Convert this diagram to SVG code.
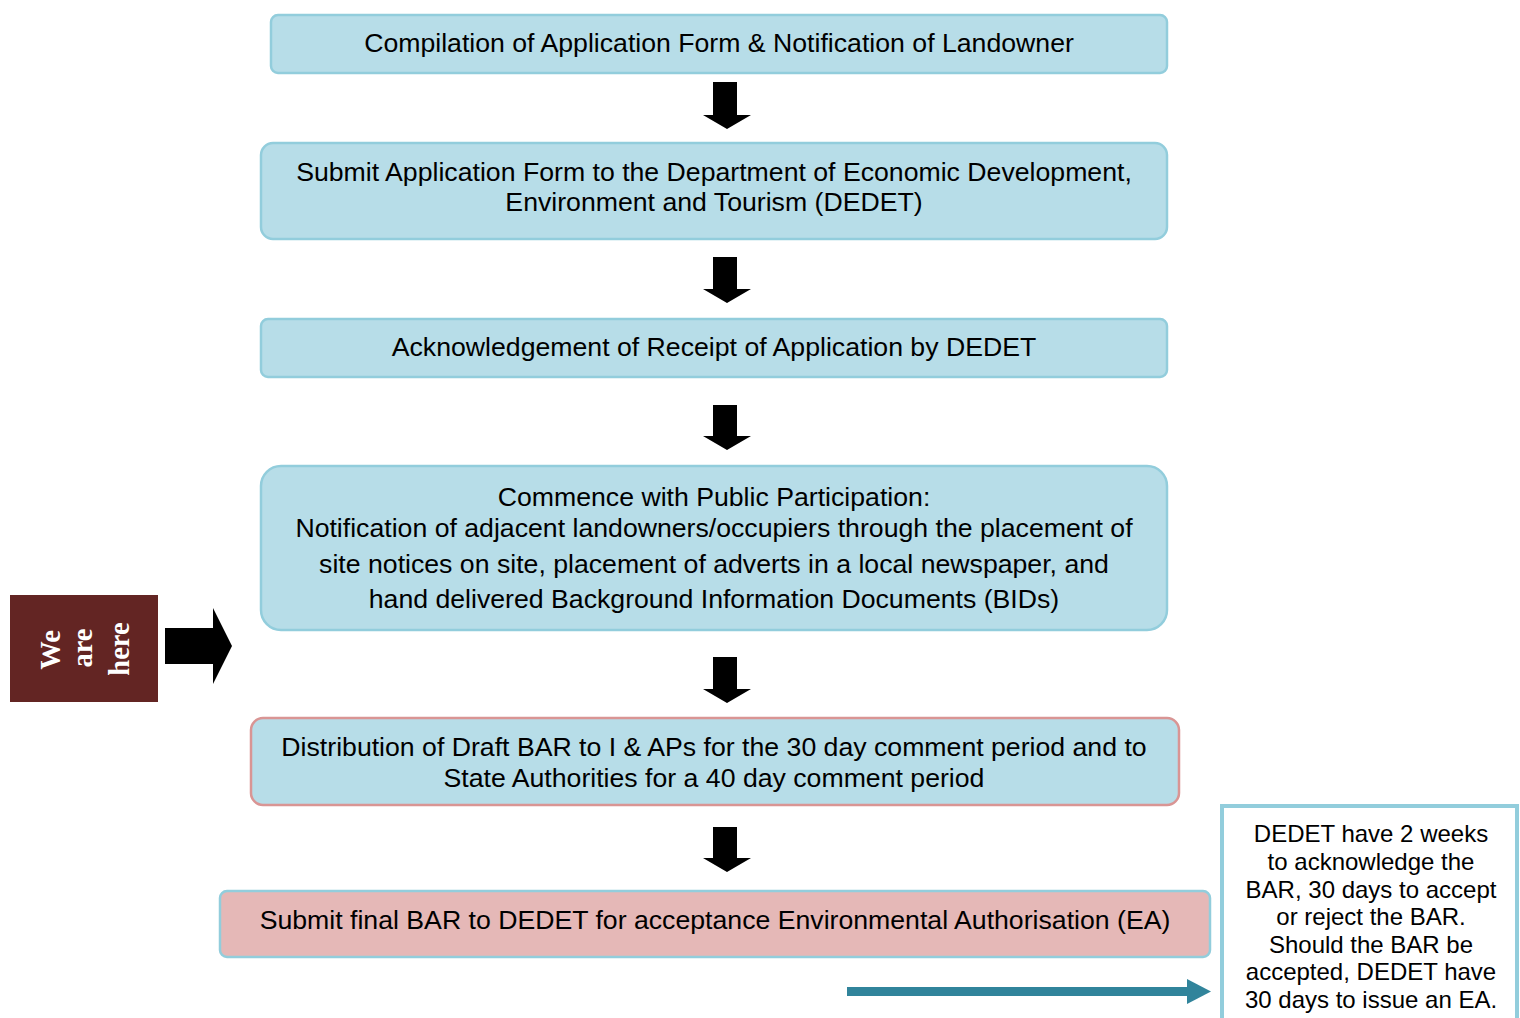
<svg xmlns="http://www.w3.org/2000/svg" width="1520" height="1018" viewBox="0 0 1520 1018">
  <style>
    .box { fill: #b7dde8; stroke: #92cddc; stroke-width: 2.5; }
    .pinkstroke { stroke: #d99594; }
    .pinkfill { fill: #e5b8b7; }
    .t { font-family: "Liberation Sans", Arial, sans-serif; font-size: 26.67px; fill: #000; text-anchor: middle; }
    .s { font-family: "Liberation Sans", Arial, sans-serif; font-size: 24px; fill: #000; text-anchor: middle; }
    .w { font-family: "Liberation Serif", "Times New Roman", serif; font-size: 28.5px; font-weight: bold; fill: #fff; text-anchor: middle; }
  </style>
  <defs>
    <polygon id="down" points="-14,0 10,0 10,33 24,33 0,47 -24,33 -14,33" fill="#000" transform="translate(0,0)"/>
  </defs>
  <rect width="1520" height="1018" fill="#fff"/>

  <g id="connectors">
    <polygon points="713,82 737,82 737,115 751,115 727,129 703,115 713,115" fill="#000"/>
    <polygon points="713,257 737,257 737,289 751,289 727,303 703,289 713,289" fill="#000"/>
    <polygon points="713,405 737,405 737,436 751,436 727,450 703,436 713,436" fill="#000"/>
    <polygon points="713,657 737,657 737,689 751,689 727,703 703,689 713,689" fill="#000"/>
    <polygon points="713,827 737,827 737,858 751,858 727,872 703,858 713,858" fill="#000"/>
    <polygon points="165,628 213,628 213,608 232,646 213,684 213,664 165,664" fill="#000"/>
    <rect x="847" y="987" width="341" height="9" fill="#31849b"/>
    <polygon points="1187,979 1211,991.5 1187,1004" fill="#31849b"/>
  </g>

  <g id="n1">
    <rect class="box" x="271" y="15" width="896" height="58" rx="7"/>
    <text class="t" x="719" y="52">Compilation of Application Form &amp; Notification of Landowner</text>
  </g>
  <g id="n2">
    <rect class="box" x="261" y="143" width="906" height="96" rx="12"/>
    <text class="t" x="714" y="181">Submit Application Form to the Department of Economic Development,</text>
    <text class="t" x="714" y="211">Environment and Tourism (DEDET)</text>
  </g>
  <g id="n3">
    <rect class="box" x="261" y="319" width="906" height="58" rx="7"/>
    <text class="t" x="714" y="356">Acknowledgement of Receipt of Application by DEDET</text>
  </g>
  <g id="n4">
    <rect class="box" x="261" y="466" width="906" height="164" rx="20"/>
    <text class="t" x="714" y="506">Commence with Public Participation:</text>
    <text class="t" x="714" y="537">Notification of adjacent landowners/occupiers through the placement of</text>
    <text class="t" x="714" y="573">site notices on site, placement of adverts in a local newspaper, and</text>
    <text class="t" x="714" y="608">hand delivered Background Information Documents (BIDs)</text>
  </g>
  <g id="n5">
    <rect class="box pinkstroke" x="251" y="718" width="928" height="87" rx="12"/>
    <text class="t" x="714" y="756">Distribution of Draft BAR to I &amp; APs for the 30 day comment period and to</text>
    <text class="t" x="714" y="787">State Authorities for a 40 day comment period</text>
  </g>
  <g id="n6">
    <rect class="box pinkfill" x="220" y="891" width="990" height="66" rx="7"/>
    <text class="t" x="715" y="929">Submit final BAR to DEDET for acceptance Environmental Authorisation (EA)</text>
  </g>
  <g id="note">
    <rect x="1222" y="806" width="295" height="230" fill="#fff" stroke="#92cddc" stroke-width="4"/>
    <text class="s" x="1371" y="842">DEDET have 2 weeks</text>
    <text class="s" x="1371" y="870">to acknowledge the</text>
    <text class="s" x="1371" y="898">BAR, 30 days to accept</text>
    <text class="s" x="1371" y="925">or reject the BAR.</text>
    <text class="s" x="1371" y="953">Should the BAR be</text>
    <text class="s" x="1371" y="980">accepted, DEDET have</text>
    <text class="s" x="1371" y="1008">30 days to issue an EA.</text>
  </g>
  <g id="here">
    <rect x="10" y="595" width="148" height="107" fill="#632523"/>
    <text class="w" transform="translate(60,650) rotate(-90)">We</text>
    <text class="w" transform="translate(92,648) rotate(-90)">are</text>
    <text class="w" transform="translate(129,649) rotate(-90)">here</text>
  </g>
</svg>
